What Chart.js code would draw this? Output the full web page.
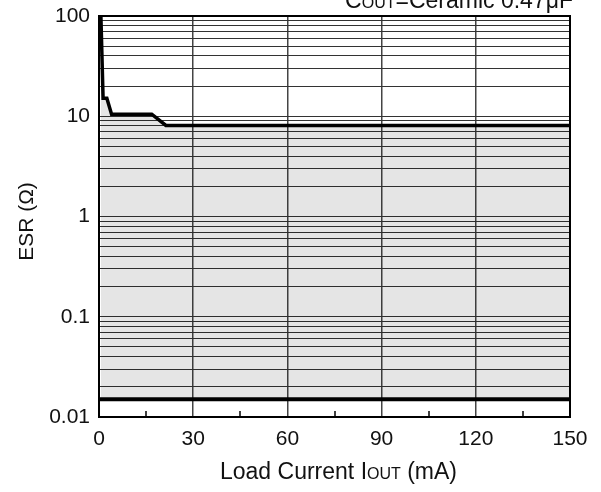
<!DOCTYPE html>
<html>
<head>
<meta charset="utf-8">
<script src="https://cdn.jsdelivr.net/npm/chart.js@4/dist/chart.umd.min.js"></script>
<style>
  html, body { margin: 0; padding: 0; background: #fff; }
  #wrap { width: 601px; height: 492px; }
</style>
</head>
<body>
<div id="wrap"><canvas id="c" width="601" height="492"></canvas></div>
<script>
// ---- data ----
const loadCurrent   = [0.6, 1.3, 2.5, 4.0, 16.8, 21.3, 150];   // mA
const esrUpperLimit = [100, 15.1, 15.1, 10.5, 10.5, 8.1, 8.1];  // ohm
const lowerCurrent  = [0, 150];                                 // mA
const esrLowerLimit = [0.015, 0.015];                           // ohm
const xTickValues   = [0, 30, 60, 90, 120, 150];
const xMinorTicks   = [15, 45, 75, 105, 135];
const yTickLabels   = [0.01, 0.1, 1, 10, 100];
const yMinorMultipliers = [2, 3, 4, 5, 6, 7, 8, 9];

const FONT = "'Liberation Sans', Arial, sans-serif";

const yGridValues = [];
yTickLabels.forEach((d, i) => {
  yGridValues.push(d);
  if (i < yTickLabels.length - 1) yMinorMultipliers.forEach(m => yGridValues.push(+(d * m).toPrecision(3)));
});

function drawParts(ctx, parts, x, y, align) {
  let total = 0;
  parts.forEach(p => { ctx.font = p[1] + 'px ' + FONT; total += ctx.measureText(p[0]).width; });
  let cx = align === 'center' ? x - total / 2 : (align === 'right' ? x - total : x);
  ctx.textAlign = 'left';
  ctx.textBaseline = 'alphabetic';
  parts.forEach(p => {
    ctx.font = p[1] + 'px ' + FONT;
    ctx.fillText(p[0], cx, y);
    cx += ctx.measureText(p[0]).width;
  });
}

const overlay = {
  id: 'overlay',
  afterDatasetsDraw(chart) {
    const { ctx, chartArea: a, scales: { x } } = chart;
    ctx.save();
    ctx.strokeStyle = '#000';
    ctx.lineWidth = 1.5;
    xMinorTicks.forEach(v => {
      const px = Math.round(x.getPixelForValue(v));
      ctx.beginPath(); ctx.moveTo(px, a.bottom); ctx.lineTo(px, a.bottom - 6); ctx.stroke();
    });
    ctx.lineWidth = 2;
    ctx.strokeRect(a.left, a.top, a.right - a.left, a.bottom - a.top);
    ctx.restore();
  },
  afterDraw(chart) {
    const { ctx, chartArea: a } = chart;
    ctx.save();
    ctx.fillStyle = '#111';
    drawParts(ctx, [['Load Current I', 23], ['OUT', 16], [' (mA)', 23]], (a.left + a.right) / 2 + 4, 479, 'center');
    drawParts(ctx, [['C', 23], ['OUT', 16], ['=Ceramic 0.47μF', 23]], 573, 8, 'right');
    ctx.translate(27, (a.top + a.bottom) / 2 + 5);
    ctx.rotate(-Math.PI / 2);
    ctx.font = '21px ' + FONT;
    ctx.textAlign = 'center';
    ctx.textBaseline = 'middle';
    ctx.fillText('ESR (Ω)', 0, 0);
    ctx.restore();
  }
};

new Chart(document.getElementById('c'), {
  type: 'line',
  data: {
    datasets: [
      {
        data: loadCurrent.map((v, i) => ({ x: v, y: esrUpperLimit[i] })),
        borderColor: '#000', borderWidth: 3.5, pointRadius: 0, tension: 0,
        backgroundColor: 'rgba(0,0,0,0.1)', fill: 1
      },
      {
        data: lowerCurrent.map((v, i) => ({ x: v, y: esrLowerLimit[i] })),
        borderColor: '#000', borderWidth: 4, pointRadius: 0, tension: 0, fill: false
      }
    ]
  },
  options: {
    responsive: false,
    animation: false,
    events: [],
    layout: { padding: { top: 16, right: 31, left: 0, bottom: 0 } },
    plugins: { legend: { display: false }, tooltip: { enabled: false }, title: { display: false } },
    scales: {
      x: {
        type: 'linear', min: 0, max: 150,
        afterBuildTicks: s => { s.ticks = xTickValues.map(v => ({ value: v })); },
        afterFit: s => { s.height = 75; s.paddingLeft = 0; s.paddingRight = 0; },
        ticks: { autoSkip: false, maxRotation: 0, padding: 10, color: '#111', font: { family: FONT, size: 21 } },
        grid: {
          drawTicks: false,
          color: c => (c.tick && c.tick.value > 0 && c.tick.value < 150) ? '#444' : 'rgba(0,0,0,0)',
          lineWidth: 1.5
        },
        border: { display: false }
      },
      y: {
        type: 'logarithmic', min: 0.01, max: 100,
        afterBuildTicks: s => { s.ticks = yGridValues.map(v => ({ value: v })); },
        afterFit: s => { s.width = 99; s.paddingTop = 0; s.paddingBottom = 0; },
        ticks: {
          autoSkip: false, padding: 9, color: '#111', font: { family: FONT, size: 21 },
          callback: v => {
            const hit = yTickLabels.find(t => Math.abs(t - v) / t < 1e-6);
            return hit === undefined ? '' : String(hit);
          }
        },
        grid: { drawTicks: false, color: '#333', lineWidth: 1 },
        border: { display: false }
      }
    }
  },
  plugins: [overlay]
});
</script>
</body>
</html>
